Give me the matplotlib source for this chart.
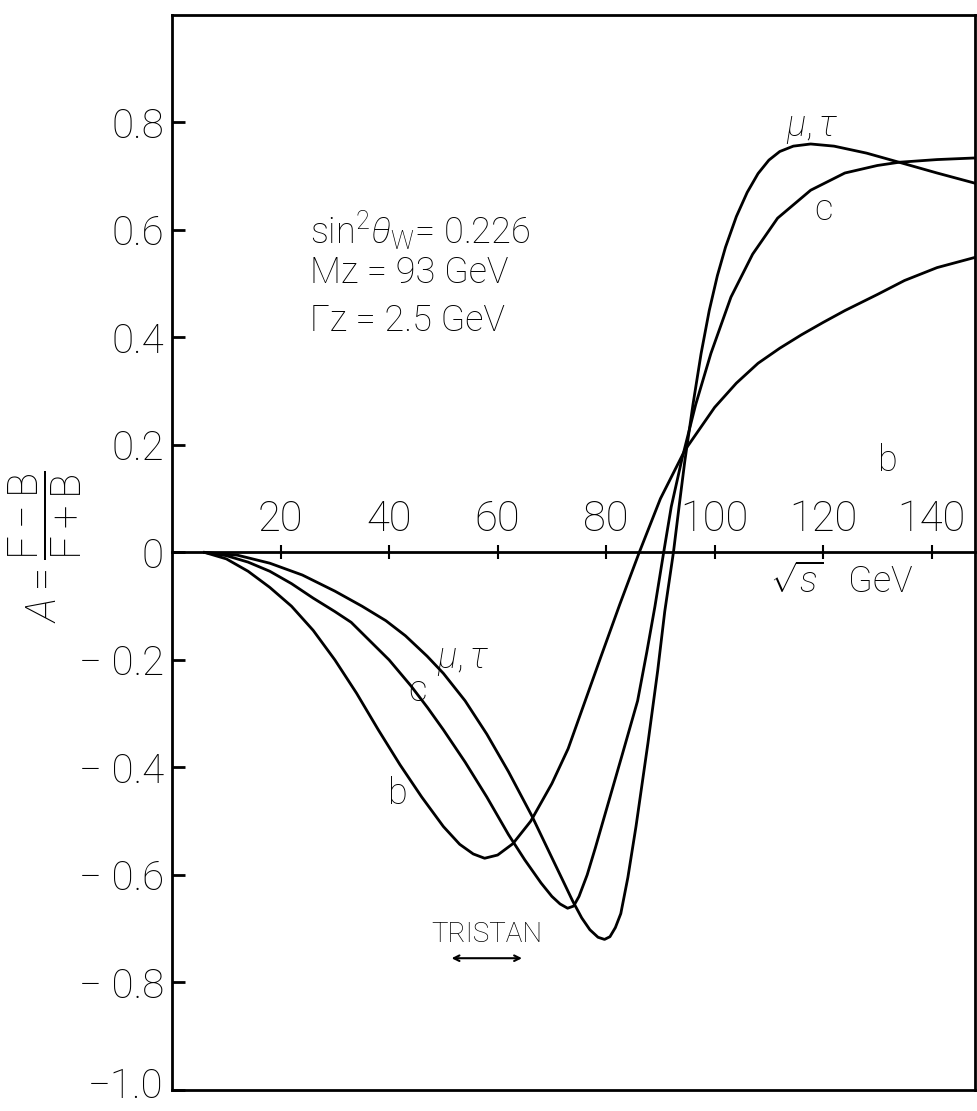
import numpy as np
import matplotlib
matplotlib.use("Agg")
import matplotlib.pyplot as plt
from matplotlib.transforms import ScaledTranslation

plt.rcParams['font.family'] = ['Roboto', 'DejaVu Sans']
plt.rcParams['font.weight'] = 'light'
plt.rcParams['mathtext.fontset'] = 'custom'
plt.rcParams['mathtext.rm'] = 'Roboto:light'
plt.rcParams['mathtext.it'] = 'Roboto:italic:light'

# forward-backward asymmetry vs sqrt(s)
x_b = [6, 10, 14, 18, 22, 26, 30, 34, 38, 42, 46, 50, 53, 55.5, 57.6, 60, 62.8,
       66.1, 70, 73, 76, 79, 82.5, 86.1, 90, 94.5, 100, 104, 108, 112, 116, 120,
       124, 130, 135, 141, 148]
a_b = [0, -0.012, -0.035, -0.065, -0.1, -0.145, -0.2, -0.262, -0.33, -0.395,
       -0.455, -0.51, -0.543, -0.561, -0.569, -0.563, -0.542, -0.5, -0.43, -0.365,
       -0.28, -0.195, -0.097, 0, 0.1, 0.19, 0.27, 0.315, 0.352, 0.38, 0.405, 0.428,
       0.45, 0.48, 0.506, 0.53, 0.549]

x_c = [6, 10, 14, 18, 22, 26, 30, 33, 36, 40, 44, 47.1, 50, 54, 58, 62, 65, 68,
       70, 71.5, 72.9, 74, 75, 76.5, 78, 80, 83, 85.8, 87.5, 89, 90.6, 92, 94,
       96.5, 99.3, 103, 107, 111.6, 117.7, 124, 130, 134, 141, 148]
a_c = [0, -0.006, -0.018, -0.035, -0.058, -0.085, -0.11, -0.13, -0.16, -0.2,
       -0.248, -0.289, -0.33, -0.39, -0.455, -0.525, -0.572, -0.615, -0.64,
       -0.654, -0.662, -0.658, -0.64, -0.6, -0.55, -0.48, -0.375, -0.276, -0.185,
       -0.1, 0, 0.085, 0.175, 0.275, 0.37, 0.475, 0.555, 0.622, 0.674, 0.706,
       0.72, 0.726, 0.731, 0.734]

x_mu = [6, 12, 18, 24, 30, 35, 39.4, 43, 47, 50, 54, 58, 62, 66.3, 70, 72,
        73.8, 75.5, 77, 78.5, 79.7, 80.7, 81.7, 82.7, 84, 85.5, 87.7, 89.5, 90.8,
        92.4, 93.5, 94.5, 96, 97.5, 99, 100.5, 102, 104, 106, 108, 110, 112,
        114.5, 117.7, 122, 128, 134, 141, 148]
a_mu = [0, -0.005, -0.02, -0.042, -0.072, -0.1, -0.127, -0.155, -0.193, -0.225,
        -0.276, -0.338, -0.408, -0.49, -0.568, -0.61, -0.648, -0.68, -0.702,
        -0.716, -0.72, -0.715, -0.698, -0.672, -0.605, -0.51, -0.355, -0.22,
        -0.11, 0, 0.09, 0.17, 0.275, 0.37, 0.45, 0.515, 0.568, 0.625, 0.67, 0.705,
        0.73, 0.746, 0.756, 0.76, 0.756, 0.743, 0.726, 0.706, 0.687]

xticks = [20, 40, 60, 80, 100, 120, 140]
yticks = [0.8, 0.6, 0.4, 0.2, 0, -0.2, -0.4, -0.6, -0.8, -1.0]
ytick_labels = ["0.8", "0.6", "0.4", "0.2", "0", "\u2212 0.2", "\u2212 0.4",
                "\u2212 0.6", "\u2212 0.8", "\u22121.0"]
tristan = [51, 65]

fig = plt.figure(figsize=(9.78, 11.11), dpi=100)
ax = fig.add_axes([0.176, 0.019, 0.821, 0.9675])
ax.set_xlim(0, 148)
ax.set_ylim(-1.0, 1.0)

for s in ax.spines.values():
    s.set_linewidth(2)

ax.set_xticks([])
ax.set_yticks(yticks)
ax.set_yticklabels(ytick_labels)
ax.tick_params(axis='y', direction='in', length=9, width=2, pad=6, labelsize=29)
# lift the bottom label a little so it stays inside the figure
last = ax.get_yticklabels()[-1]
last.set_transform(last.get_transform() + ScaledTranslation(0, 5 / 72, fig.dpi_scale_trans))

# zero line carrying the energy ticks
sec = ax.secondary_xaxis(0.5)
sec.set_xticks(xticks)
sec.set_xticklabels([str(v) for v in xticks])
sec.tick_params(direction='inout', length=10, width=1.5, pad=4, labelsize=30)
for s in sec.spines.values():
    s.set_linewidth(2)

lw = 2.0
ax.plot(x_b, a_b, color='black', lw=lw)
ax.plot(x_c, a_c, color='black', lw=lw)
ax.plot(x_mu, a_mu, color='black', lw=lw)

fs = 26
ax.text(25.4, 0.6, r'sin$^2\theta_{\rm W}$= 0.226', fontsize=fs, va='center')
ax.text(25.4, 0.52, 'Mz = 93 GeV', fontsize=fs, va='center')
ax.text(25.4, 0.43, '\u0393z = 2.5 GeV', fontsize=fs, va='center')

ax.text(118, 0.79, r'$\mu,\tau$', fontsize=fs, ha='center', va='center')
ax.text(120, 0.637, 'c', fontsize=fs, ha='center', va='center')
ax.text(132, 0.17, 'b', fontsize=fs, ha='center', va='center')

ax.text(53.6, -0.2, r'$\mu,\tau$', fontsize=fs, ha='center', va='center')
ax.text(45.3, -0.257, 'c', fontsize=fs, ha='center', va='center')
ax.text(41.6, -0.45, 'b', fontsize=fs, ha='center', va='center')

ax.text(123.5, -0.056, r'$\sqrt{s}$   GeV', fontsize=fs, ha='center', va='center')

ax.text(np.mean(tristan), -0.71, 'TRISTAN', fontsize=20, ha='center', va='center')
ax.annotate('', xy=(tristan[0], -0.755), xytext=(tristan[1], -0.755),
            arrowprops=dict(arrowstyle='<->', lw=1.5, color='black'))

ax.text(-0.158, 0.505, r'$A = \dfrac{\mathrm{F-B}}{\mathrm{F+B}}$', fontsize=30,
        rotation=90, ha='center', va='center', transform=ax.transAxes)

fig.savefig('out.png', dpi=100)
